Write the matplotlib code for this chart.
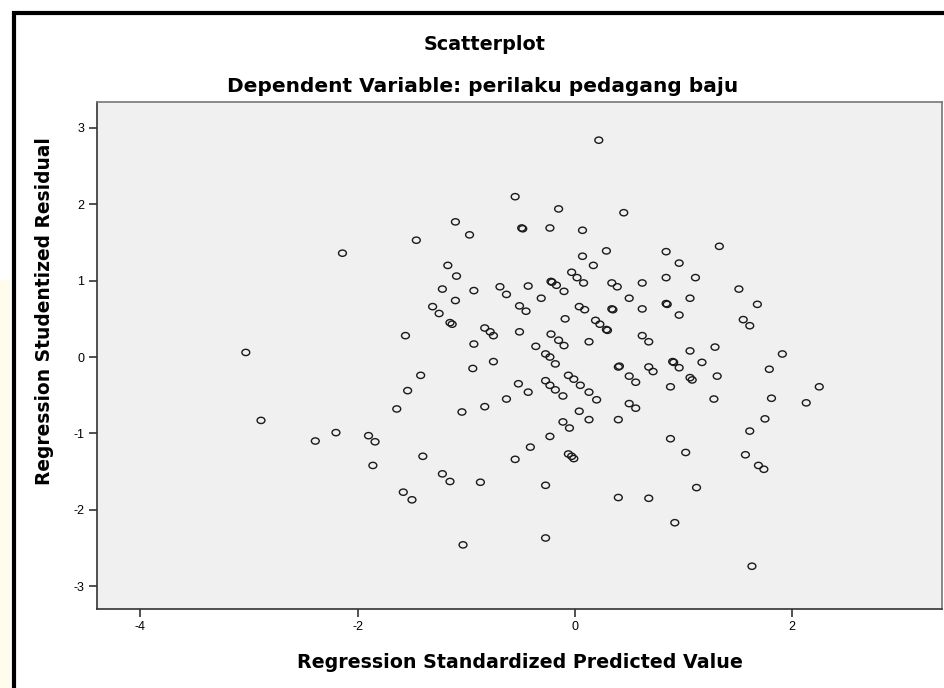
import matplotlib
matplotlib.use('Agg')
import matplotlib.pyplot as plt
from matplotlib.patches import Rectangle
from matplotlib.path import Path

plt.rcParams['font.family'] = ['Liberation Sans', 'DejaVu Sans']
plt.rcParams['axes.unicode_minus'] = False

# regression standardized predicted value (x) / studentized residual (y)
pred = [-0.55, -0.15, -1.10, -0.49, -0.48, -0.23, -1.46, -0.97, -2.14, -1.17,
        -1.09, -0.22, -0.21, -0.17, -1.22, -0.93, -0.69, -0.63, -0.43, -0.31,
        -1.10, -0.51, -0.45, -1.31, -1.25, -1.15, -1.13, -0.83, -0.78, -0.75,
        -0.51, -1.56, -0.22, 0.22, 0.45, 0.07, 0.29, 0.07, 0.17, -0.03,
        0.02, 0.08, -0.10, 0.34, 0.39, 0.62, 0.84, 0.96, 1.33, 0.84,
        1.11, 0.50, 0.04, 0.09, 0.34, 0.35, 0.62, 0.84, 0.85, 1.06,
        0.96, 1.51, 1.68, 1.55, 1.61, -0.09, 0.19, 0.23, 0.29, 0.30,
        0.62, -3.03, -2.89, -2.39, -2.20, -1.90, -1.84, -1.86, -1.64, -1.54,
        -1.42, -1.40, -1.58, -1.50, -1.22, -1.15, -1.03, -1.04, -0.94, -0.93,
        -0.75, -0.83, -0.87, -0.63, -0.52, -0.43, -0.55, -0.36, -0.27, -0.23,
        -0.18, -0.15, -0.10, 0.13, 0.68, -0.27, -0.23, -0.18, -0.11, -0.06,
        -0.01, 0.05, 0.13, 0.20, 0.04, 0.13, -0.11, -0.05, -0.23, -0.41,
        -0.06, -0.01, -0.03, -0.27, -0.27, 0.40, 0.41, 0.50, 0.56, 0.50,
        0.56, 0.40, 0.68, 0.72, 0.90, 0.91, 0.96, 1.06, 1.17, 1.29,
        1.06, 1.08, 0.88, 1.31, 1.28, 0.88, 1.02, 1.12, 0.40, 0.68,
        0.92, 1.63, 1.91, 1.79, 2.25, 2.13, 1.81, 1.75, 1.61, 1.57,
        1.69, 1.74]
resid = [2.10, 1.94, 1.77, 1.69, 1.68, 1.69, 1.53, 1.60, 1.36, 1.20,
         1.06, 0.99, 0.98, 0.94, 0.89, 0.87, 0.92, 0.82, 0.93, 0.77,
         0.74, 0.67, 0.60, 0.66, 0.57, 0.45, 0.43, 0.38, 0.33, 0.28,
         0.33, 0.28, 0.30, 2.84, 1.89, 1.66, 1.39, 1.32, 1.20, 1.11,
         1.04, 0.97, 0.86, 0.97, 0.92, 0.97, 1.38, 1.23, 1.45, 1.04,
         1.04, 0.77, 0.66, 0.62, 0.63, 0.62, 0.63, 0.70, 0.69, 0.77,
         0.55, 0.89, 0.69, 0.49, 0.41, 0.50, 0.48, 0.43, 0.36, 0.35,
         0.28, 0.06, -0.83, -1.10, -0.99, -1.03, -1.11, -1.42, -0.68, -0.44,
         -0.24, -1.30, -1.77, -1.87, -1.53, -1.63, -2.46, -0.72, -0.15, 0.17,
         -0.06, -0.65, -1.64, -0.55, -0.35, -0.46, -1.34, 0.14, 0.04, 0.00,
         -0.09, 0.22, 0.15, 0.20, 0.20, -0.31, -0.37, -0.43, -0.51, -0.24,
         -0.29, -0.37, -0.46, -0.56, -0.71, -0.82, -0.85, -0.93, -1.04, -1.18,
         -1.27, -1.33, -1.30, -1.68, -2.37, -0.13, -0.12, -0.25, -0.33, -0.61,
         -0.67, -0.82, -0.13, -0.19, -0.06, -0.07, -0.14, 0.08, -0.07, 0.13,
         -0.27, -0.30, -0.39, -0.25, -0.55, -1.07, -1.25, -1.71, -1.84, -1.85,
         -2.17, -2.74, 0.04, -0.16, -0.39, -0.60, -0.54, -0.81, -0.97, -1.28,
         -1.42, -1.47]

x_ticks = [-4, -2, 0, 2]
y_ticks = [-3, -2, -1, 0, 1, 2, 3]

W, H = 944, 688
fig = plt.figure(figsize=(W / 100, H / 100), dpi=100)
fig.patch.set_facecolor('white')

# cream strip on far left and the black frame of the chart window
fig.add_artist(Rectangle((0, 0), 10 / W, 1 - 280 / H, transform=fig.transFigure,
                         facecolor='#fffcee', edgecolor='none'))
fig.add_artist(Rectangle((13.5 / W, -0.05), 1.2, 1.05 - 13.5 / H,
                         transform=fig.transFigure, facecolor='none',
                         edgecolor='black', linewidth=3))

# slightly flattened open circle, as SPSS draws them
circ = Path.unit_circle()
oval = Path(circ.vertices * [1.0, 0.8], circ.codes)

ax = fig.add_axes([97 / W, 1 - 609 / H, (942 - 97) / W, (609 - 102) / H])
ax.set_facecolor('#f0f0f0')
ax.scatter(pred, resid, s=32, marker=oval, facecolors='none',
           edgecolors='#1a1a1a', linewidths=1.0, zorder=3)

ax.set_xlim(-4.40, 3.38)
ax.set_ylim(-3.30, 3.34)
ax.set_xticks(x_ticks)
ax.set_yticks(y_ticks)
ax.tick_params(direction='out', length=6, width=1.2, color='#333333',
               labelsize=9, pad=3)
for sp in ['top', 'right']:
    ax.spines[sp].set_color('#777777')
for sp in ['left', 'bottom']:
    ax.spines[sp].set_color('#333333')
for sp in ax.spines.values():
    sp.set_linewidth(1.2)

bold = dict(family=['DejaVu Sans'], fontweight='bold')
fig.text(485 / W, 1 - 44 / H, 'Scatterplot', ha='center', va='center',
         fontsize=13.8, **bold)
fig.text(483 / W, 1 - 86 / H, 'Dependent Variable: perilaku pedagang baju',
         ha='center', va='center', fontsize=14.5, **bold)
fig.text(520 / W, 1 - 662 / H, 'Regression Standardized Predicted Value',
         ha='center', va='center', fontsize=13.7, **bold)
fig.text(45 / W, 1 - 311 / H, 'Regression Studentized Residual', ha='center',
         va='center', rotation=90, fontsize=13.4, **bold)

fig.savefig('out.png', dpi=100)
